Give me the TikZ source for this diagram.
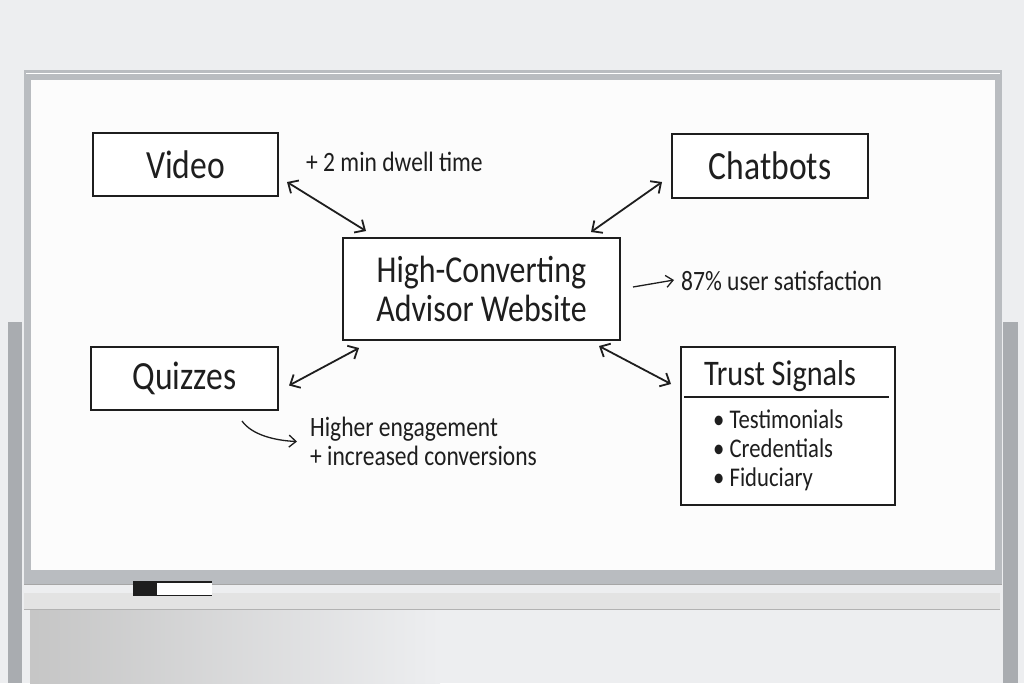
\documentclass[tikz,border=0pt]{standalone}
\usepackage{fontspec}
\setmainfont{Carlito}[FakeStretch=0.84]
\usepackage{xcolor}
\usepackage{tikz}
\usetikzlibrary{arrows.meta,positioning,calc}
\definecolor{ink}{HTML}{1E1E1E}
\definecolor{wall}{HTML}{EDEEF0}
\definecolor{board}{HTML}{FCFCFC}
\definecolor{rail}{HTML}{B9BCC0}
\definecolor{metal}{HTML}{A9ACB0}
\tikzset{
    box/.style={
        rectangle,
        draw=ink,
        line width=2pt,
        fill=white,
        align=center,
        inner sep=0pt,
        text=ink,
        font=\fontsize{40}{42}\selectfont
    },
    note/.style={inner sep=0pt, align=left, text=ink, font=\fontsize{28}{29}\selectfont},
    link/.style={{Straight Barb[length=8pt,width=15pt]}-{Straight Barb[length=8pt,width=15pt]}, line width=1.8pt, draw=ink},
    pointer/.style={-{Straight Barb[length=7pt,width=12pt]}, line width=1.3pt, draw=ink}
}

\begin{document}
\begin{tikzpicture}[x=1pt, y=-1pt]
        \useasboundingbox (0,0) rectangle (1024,683);
        \fill[wall] (0,0) rectangle (1024,683);
        \shade[left color=gray!45, right color=wall] (30,610) rectangle (440,683);
        \fill[metal] (8,322) rectangle (22,683);
        \fill[metal] (1003,322) rectangle (1018,683);
        \fill[rail] (24,70) rectangle (1002,584);
        \fill[board] (31,80) rectangle (995,570);
        \draw[white, line width=1pt] (26,73) -- (1000,73);
        \draw[gray!70, line width=1pt] (24,584) -- (1002,584);
        \fill[gray!22] (24,593) rectangle (1000,609);
        \draw[gray!60, line width=1pt] (24,609) -- (1000,609);
        \fill[ink] (133,581) rectangle (212,596);
        \fill[white] (157,583) rectangle (212,595);

        \node[box, minimum width=277pt, minimum height=102pt,
              font=\fontsize{38}{39}\selectfont] (web) at (481.5,289)
            {High-Converting\\Advisor Website};
        \node[box, minimum width=185pt, minimum height=63pt,
              above left=40pt and 63pt of web] (video) {Video};
        \node[box, minimum width=196pt, minimum height=64pt,
              above right=38pt and 50pt of web] (chat) {Chatbots};
        \node[box, minimum width=187pt, minimum height=63pt,
              below left=5pt and 63pt of web] (quiz) {Quizzes};
        \node[box, minimum width=214pt, minimum height=158pt,
              below right=5pt and 59pt of web] (trust) {};
        \node[text=ink, inner sep=0pt, font=\fontsize{36}{38}\selectfont,
              below=14pt of trust.north, xshift=-8pt] (trusttitle) {Trust Signals};
        \node[note, font=\fontsize{27}{29}\selectfont, anchor=north west]
            (trustlist) at ([xshift=33pt,yshift=-64pt]trust.north west)
            {\textbullet\ Testimonials\\\textbullet\ Credentials\\\textbullet\ Fiduciary};

        \node[note, right=27pt of video, yshift=3pt] (dwell) {+ 2 min dwell time};
        \node[note, right=60pt of web, yshift=8pt] (sat) {87\% user satisfaction};
        \node[note, below right=6pt and 31pt of quiz] (gain)
            {Higher engagement\\+ increased conversions};

        \draw[ink, line width=1.6pt] ([xshift=4pt,yshift=-51pt]trust.north west)
            -- ([xshift=-7pt,yshift=-51pt]trust.north east);
        \draw[link] ([xshift=8pt,yshift=15pt]video.south east) -- ([xshift=24pt,yshift=6pt]web.north west);
        \draw[link] ([xshift=-9pt,yshift=17pt]chat.south west) -- ([xshift=-30pt,yshift=5pt]web.north east);
        \draw[link] ([xshift=10pt,yshift=-7pt]quiz.east) -- ([xshift=17pt,yshift=-7pt]web.south west);
        \draw[link] ([xshift=-22pt,yshift=-5pt]web.south east) -- ([xshift=-9pt,yshift=-38pt]trust.north west);
        \draw[pointer] ([xshift=12pt,yshift=2pt]web.east) -- ([xshift=-7pt,yshift=1pt]sat.west);
        \draw[pointer] ([xshift=-37pt,yshift=-10pt]quiz.south east)
            .. controls +(10,14) and +(-22,-1) .. ([xshift=-13pt]gain.west);
    \end{tikzpicture}
\end{document}
